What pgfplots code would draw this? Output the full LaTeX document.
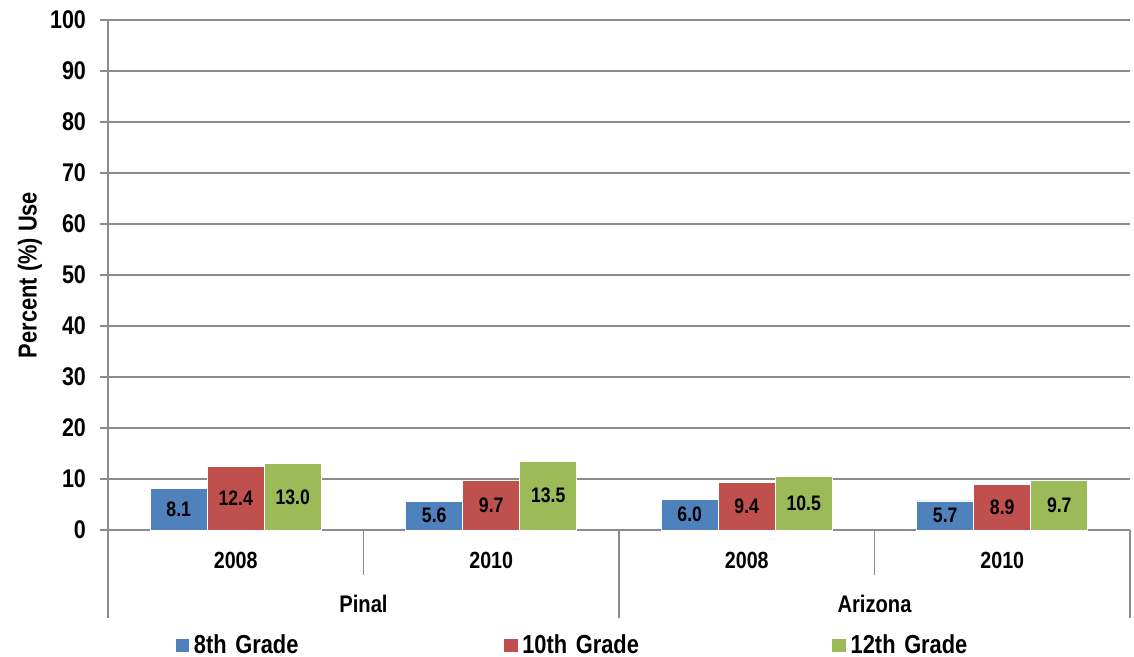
\documentclass[border=0pt]{standalone}
\usepackage{pgfplots}
\pgfplotsset{compat=1.18}
\usepackage{fontspec}
\setmainfont{Liberation Sans}[FakeStretch=0.84]
\definecolor{cA}{HTML}{4F81BD}
\definecolor{cB}{HTML}{C0504D}
\definecolor{cC}{HTML}{9BBB59}
\definecolor{gridc}{HTML}{8C8C8C}
\begin{document}
\begin{tikzpicture}[font=\bfseries]
\path[use as bounding box] (0,0) rectangle (567pt,328.5pt);
\begin{axis}[
  at={(54pt,63.5pt)}, anchor=south west,
  scale only axis, width=511pt, height=255pt,
  clip=false,
  ybar=0pt, bar width=28.5pt,
  xmin=-0.5, xmax=3.5, ymin=0, ymax=100,
  xtick={0,1,2,3}, xticklabels={2008,2010,2008,2010},
  ytick={0,10,...,100},
  major x tick style={draw=none},
  ytick style={gridc, line width=0.9pt},
  tick align=outside, major tick length=4pt,
  ymajorgrids, grid style={gridc, line width=0.9pt},
  axis x line*=bottom, axis y line*=left,
  axis line style={gridc, line width=0.9pt, -},
  /pgf/number format/assume math mode=true,
  yticklabel style={font=\bfseries\fontsize{12.8}{15}\selectfont, xshift=-3.5pt},
  xticklabel style={font=\bfseries\fontsize{11.7}{14}\selectfont, yshift=-3.5pt},
  ylabel={Percent (\%) Use},
  ylabel style={font=\bfseries\fontsize{13}{15}\selectfont, at={(axis description cs:-0.0763,0.5)}, anchor=center, rotate=0},
  nodes near coords,
  nodes near coords style={font=\bfseries\fontsize{10.5}{12}\selectfont, /pgf/number format/fixed, /pgf/number format/fixed zerofill, /pgf/number format/precision=1, /pgf/number format/assume math mode=true},
  visualization depends on=rawy\as\rawy,
  every node near coord/.append style={anchor=center, yshift={-1.275pt*\rawy}, text=black},
  legend columns=3,
  legend style={at={(0.0588,-0.226)}, anchor=west, draw=none, fill=none,
    font=\bfseries\fontsize{13}{15}\selectfont,
    /tikz/every even column/.append style={text width=152.5pt, align=left}},
  legend image code/.code={\fill[#1] (0pt,-3.7pt) rectangle (7.4pt,3.7pt);},
]
\addplot[fill=cA, draw=white, line width=0.3pt] coordinates {(0,8.1) (1,5.6) (2,6.0) (3,5.7)};
\addplot[fill=cB, draw=white, line width=0.3pt] coordinates {(0,12.4) (1,9.7) (2,9.4) (3,8.9)};
\addplot[fill=cC, draw=white, line width=0.3pt] coordinates {(0,13.0) (1,13.5) (2,10.5) (3,9.7)};
\legend{8th Grade,10th Grade,12th Grade}
\draw[gridc, line width=0.9pt] (axis cs:0.5,0) -- ([yshift=-22.5pt]axis cs:0.5,0);
\draw[gridc, line width=0.9pt] (axis cs:2.5,0) -- ([yshift=-22.5pt]axis cs:2.5,0);
\draw[gridc, line width=0.9pt] (axis cs:1.5,0) -- ([yshift=-44pt]axis cs:1.5,0);
\draw[gridc, line width=0.9pt] (axis cs:-0.5,0) -- ([yshift=-44pt]axis cs:-0.5,0);
\draw[gridc, line width=0.9pt] (axis cs:3.5,0) -- ([yshift=-44pt]axis cs:3.5,0);
\node[font=\bfseries\fontsize{12}{14}\selectfont] at ([yshift=-37pt]axis cs:0.5,0) {Pinal};
\node[font=\bfseries\fontsize{12}{14}\selectfont] at ([yshift=-37pt]axis cs:2.5,0) {Arizona};
\end{axis}
\end{tikzpicture}
\end{document}
